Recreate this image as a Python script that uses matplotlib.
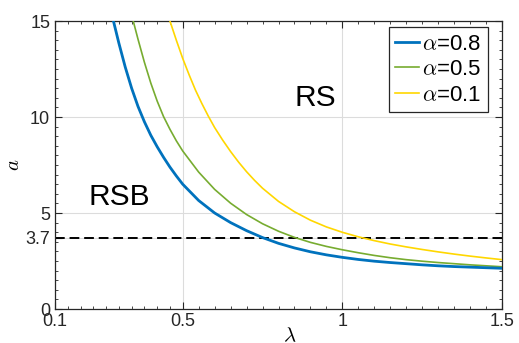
import numpy as np
import matplotlib
matplotlib.use("Agg")
import matplotlib.pyplot as plt
from matplotlib.ticker import FixedLocator

plt.rcParams['font.family'] = ['Liberation Sans', 'DejaVu Sans']
plt.rcParams['mathtext.fontset'] = 'cm'

# Data (lambda, a)
x_a08 = [0.283, 0.30, 0.32, 0.34, 0.36, 0.38, 0.40, 0.42, 0.44, 0.46, 0.48, 0.50, 0.55, 0.60,
         0.65, 0.70, 0.75, 0.80, 0.85, 0.90, 0.95, 1.00, 1.05, 1.10, 1.15, 1.20, 1.25, 1.30,
         1.35, 1.40, 1.45, 1.50]
y_a08 = [15.0, 13.85, 12.6, 11.5, 10.55, 9.75, 9.05, 8.45, 7.9, 7.39, 6.93, 6.5, 5.65, 5.0,
         4.5, 4.08, 3.72, 3.42, 3.18, 2.98, 2.82, 2.69, 2.58, 2.49, 2.42, 2.36, 2.30, 2.25,
         2.21, 2.18, 2.15, 2.12]

x_a05 = [0.345, 0.36, 0.38, 0.40, 0.42, 0.44, 0.46, 0.48, 0.50, 0.55, 0.60, 0.65, 0.70, 0.75,
         0.80, 0.85, 0.90, 0.95, 1.00, 1.05, 1.10, 1.15, 1.20, 1.25, 1.30, 1.35, 1.40, 1.45, 1.50]
y_a05 = [15.0, 14.05, 12.85, 11.77, 10.83, 10.02, 9.36, 8.76, 8.23, 7.13, 6.23, 5.51, 4.92, 4.44,
         4.05, 3.73, 3.47, 3.26, 3.085, 2.93, 2.79, 2.67, 2.57, 2.49, 2.42, 2.36, 2.30, 2.25, 2.20]

x_a01 = [0.46, 0.48, 0.50, 0.52, 0.54, 0.56, 0.58, 0.60, 0.625, 0.65, 0.675, 0.70, 0.725, 0.75,
         0.80, 0.85, 0.90, 0.95, 1.00, 1.05, 1.10, 1.15, 1.20, 1.25, 1.30, 1.35, 1.40, 1.45, 1.50]
y_a01 = [15.0, 14.0, 13.05, 12.2, 11.4, 10.7, 10.05, 9.45, 8.8, 8.2, 7.65, 7.15, 6.70, 6.29,
         5.605, 5.065, 4.625, 4.275, 3.995, 3.76, 3.56, 3.385, 3.235, 3.10, 2.975, 2.86, 2.755,
         2.66, 2.57]

threshold = 3.7
series_labels = [r'$\alpha$=0.8', r'$\alpha$=0.5', r'$\alpha$=0.1']
xticks = [0.1, 0.5, 1, 1.5]
xticklabels = ['0.1', '0.5', '1', '1.5']
yticks = [0, 3.7, 5, 10, 15]
yticklabels = ['0', '3.7', '5', '10', '15']

fig = plt.figure(figsize=(5.19, 3.43), dpi=100)
ax = fig.add_axes([55/519, 34/343, 447/519, 288/343])

ax.plot(x_a08, y_a08, color='#0072BD', lw=2.0, label=series_labels[0], zorder=4)
ax.plot(x_a05, y_a05, color='#77AC30', lw=1.2, label=series_labels[1], zorder=3)
ax.plot(x_a01, y_a01, color='#FFD700', lw=1.2, label=series_labels[2], zorder=3)
ax.axhline(threshold, color='black', lw=1.4, ls=(0, (5, 2.5)), zorder=2)

ax.set_xlim(0.1, 1.5)
ax.set_ylim(0, 15)
ax.set_xticks(xticks)
ax.set_xticklabels(xticklabels)
ax.set_yticks(yticks)
ax.set_yticklabels(yticklabels)
minor_x = np.concatenate([np.linspace(0.1, 0.5, 11), np.linspace(0.5, 1, 11), np.linspace(1, 1.5, 11)])
ax.xaxis.set_minor_locator(FixedLocator(minor_x))
ax.yaxis.set_minor_locator(FixedLocator(np.arange(0, 15.01, 0.5)))
ax.tick_params(which='both', direction='in', top=True, right=True, colors='#262626', labelsize=13)
ax.tick_params(which='major', length=5, width=0.8)
ax.tick_params(which='minor', length=2.5, width=0.6)
ax.tick_params(axis='x', pad=3)
ax.grid(True, which='major', color='#dcdcdc', lw=0.8, zorder=0)
ax.set_axisbelow(True)
for s in ax.spines.values():
    s.set_color('#262626')
    s.set_linewidth(0.9)

ax.set_xlabel(r'$\lambda$', fontsize=15, labelpad=-3)
ax.xaxis.set_label_coords((290 - 55) / 447, -0.06, transform=ax.transAxes)
ax.xaxis.label.set_va('top')
ax.set_ylabel(r'$a$', fontsize=15, labelpad=2)

ax.text(0.30, 5.83, 'RSB', fontsize=21.5, ha='center', va='center')
ax.text(0.914, 10.99, 'RS', fontsize=21.5, ha='center', va='center')

leg = ax.legend(loc='upper right', bbox_to_anchor=((488 - 55) / 447, (309 - 27) / 288),
                fontsize=16, handlelength=1.05, handletextpad=0.15,
                borderpad=0.3, labelspacing=0.2, fancybox=False, framealpha=1,
                edgecolor='#262626', borderaxespad=0)
leg.get_frame().set_linewidth(0.9)

fig.savefig('out.png', dpi=100)
